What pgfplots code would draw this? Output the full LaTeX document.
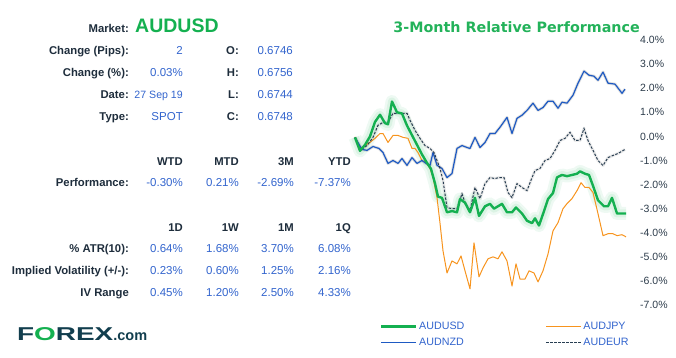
\documentclass[border=0pt]{standalone}
\usepackage{pgfplots}
\usepackage{pgfplotstable}
\pgfplotsset{compat=1.18}
\usepackage{fontspec}
\setmainfont{Liberation Sans}
\newfontfamily\titlefont{DejaVu Sans}
\definecolor{usdgreen}{RGB}{20,176,80}
\definecolor{titlegreen}{RGB}{35,178,90}
\definecolor{nzdblue}{RGB}{30,90,195}
\definecolor{jpyorange}{RGB}{247,148,30}
\definecolor{eurdark}{RGB}{40,62,82}
\definecolor{labeldark}{RGB}{30,45,60}
\definecolor{valblue}{RGB}{50,100,205}
\definecolor{logodark}{RGB}{18,62,78}
\definecolor{ticklab}{RGB}{45,60,75}

\pgfplotstableread{
x y
355 -0.04
360 -0.6
365 -0.35
370 0.0
375 0.6
380 0.9
385 0.55
388 0.5
392 1.45
397 1.0
402 0.95
407 0.45
412 0.05
417 -0.35
422 -0.75
427 -1.1
431 -1.35
435 -1.95
438 -2.5
442 -2.55
447 -3.15
452 -3.1
457 -3.15
460 -2.6
465 -2.75
470 -3.15
475 -2.55
479 -3.3
485 -2.9
490 -2.8
494 -3.0
498 -2.9
502 -2.8
507 -3.15
512 -3.15
516 -2.95
522 -3.2
527 -3.5
532 -3.6
535 -3.4
539 -3.7
544 -3.1
548 -2.6
553 -2.35
557 -1.7
562 -1.6
567 -1.65
572 -1.6
577 -1.55
580 -1.45
585 -1.55
589 -1.6
593 -2.05
598 -2.65
604 -2.9
608 -2.9
612 -2.55
617 -3.2
626 -3.2
}\usd

\pgfplotstableread{
x y
355 -0.02
360 -0.5
365 -0.38
370 -0.25
375 -0.08
380 0.12
383 0.12
388 -0.25
393 0.04
398 0.04
403 -0.04
408 -0.08
412 -0.5
415 -0.5
418 -0.67
422 -1.0
426 -1.08
430 -1.33
433 -1.71
437 -2.54
440 -3.6
443 -4.75
447 -5.67
452 -5.17
457 -5.29
461 -4.96
465 -5.58
470 -6.33
474 -4.42
479 -5.83
483 -5.46
488 -5.08
493 -5.0
498 -5.08
502 -4.79
507 -5.17
512 -6.21
516 -5.29
520 -5.92
525 -5.92
529 -5.58
534 -5.67
538 -6.04
543 -5.58
548 -4.88
553 -3.92
558 -3.58
563 -3.0
567 -2.79
572 -2.58
577 -2.25
581 -1.92
585 -2.12
589 -2.12
593 -2.33
598 -3.21
603 -4.12
608 -4.04
613 -4.04
617 -4.12
622 -4.08
626 -4.17
}\jpy

\pgfplotstableread{
x y
355 -0.04
362 -0.54
367 -0.58
373 -0.42
379 -0.5
383 -0.67
388 -1.12
393 -1.0
398 -1.12
402 -0.92
407 -1.2
412 -0.88
417 -1.12
422 -1.0
426 -1.12
430 -1.2
433 -0.67
437 -1.2
442 -1.33
447 -1.71
452 -1.54
457 -0.5
462 -0.38
467 -0.46
470 -0.5
475 -0.04
480 -0.46
485 -0.25
490 0.12
495 0.12
500 0.38
507 0.79
512 0.12
517 0.75
522 0.88
527 1.08
533 1.38
538 1.08
543 1.2
548 1.46
553 1.46
558 1.17
562 1.42
567 1.38
573 1.71
578 2.21
584 2.71
589 2.54
594 2.5
598 2.33
603 2.67
608 2.21
615 2.17
622 1.79
625 1.96
}\nzd

\pgfplotstableread{
x y
355 -0.04
360 -0.58
367 -0.38
373 -0.04
378 0.46
383 0.58
388 0.58
393 0.96
398 0.96
403 0.96
407 0.96
410 0.67
415 0.25
420 -0.08
425 -0.38
430 -0.5
434 -0.67
437 -1.0
440 -1.33
443 -1.83
447 -2.96
452 -3.0
457 -3.0
462 -2.38
465 -2.75
470 -3.08
475 -2.12
480 -2.58
485 -1.96
490 -1.71
495 -1.75
499 -1.71
504 -1.71
508 -2.33
512 -2.54
517 -1.96
522 -2.12
527 -2.25
532 -1.71
535 -1.42
540 -1.33
545 -1.0
550 -0.92
555 -0.58
560 -0.17
565 -0.08
570 0.17
575 -0.17
580 -0.17
584 0.33
588 -0.17
593 -0.58
598 -1.0
603 -1.21
608 -0.88
613 -0.79
618 -0.71
625 -0.54
}\eur

\newcommand\lab[3]{\node[anchor=base east,inner sep=0pt,font=\fontsize{11.3bp}{13bp}\selectfont\bfseries,text=labeldark] at (#1,#2) {#3};}
\newcommand\val[3]{\node[anchor=base east,inner sep=0pt,font=\fontsize{11.5bp}{13bp}\selectfont,text=valblue] at (#1,#2) {#3};}

\begin{document}
\begin{tikzpicture}
\begin{axis}[
  scale only axis,
  width=271bp, height=265bp,
  xmin=355, xmax=626, ymin=-7, ymax=4,
  hide x axis,
  axis y line=right, y axis line style={draw=none},
  major tick length=0pt,
  ytick={-7,-6,...,4},
  /pgf/number format/assume math mode=true,
  yticklabel={\pgfmathprintnumber[fixed,fixed zerofill,precision=1]{\tick}\%},
  yticklabel style={anchor=west, inner sep=0pt, xshift=14bp, font=\fontsize{10.5bp}{12bp}\selectfont, text=ticklab},
  clip=false,
  legend columns=2,
  legend cell align=left,
  legend image code/.code={\draw[#1] (0bp,0bp) -- (35bp,0bp);},
  legend style={draw=none, fill=none, at={(axis description cs:0.092,-0.057)}, anchor=north west,
    font=\fontsize{10.7bp}{12bp}\selectfont, text=valblue, inner sep=0pt, row sep=4bp,
    nodes={inner sep=1.5bp},
    /tikz/every even column/.append style={column sep=80bp}},
]
% glow for AUDUSD
\addplot[forget plot, usdgreen, opacity=0.07, line width=13bp, line join=round] table {\usd};
\addplot[forget plot, usdgreen, opacity=0.09, line width=8bp, line join=round] table {\usd};
% AUDJPY
\addplot[forget plot, jpyorange, line width=1bp, line join=round] table {\jpy};
% AUDNZD shadow + line
\addplot[forget plot, black, opacity=0.12, line width=3bp, line join=round] table {\nzd};
\addplot[forget plot, nzdblue, line width=1.2bp, line join=round] table {\nzd};
% AUDEUR shadow + line
\addplot[forget plot, black, opacity=0.08, line width=3bp, line join=round] table {\eur};
\addplot[forget plot, eurdark, line width=1bp, dash pattern=on 2.5bp off 1.5bp] table {\eur};
% AUDUSD
\addplot[forget plot, usdgreen, line width=2.4bp, line join=round] table {\usd};

\addlegendimage{usdgreen, line width=2.6bp}
\addlegendentry{AUDUSD}
\addlegendimage{jpyorange, line width=1bp}
\addlegendentry{AUDJPY}
\addlegendimage{nzdblue, line width=1.2bp}
\addlegendentry{AUDNZD}
\addlegendimage{eurdark, line width=1bp, dash pattern=on 2.5bp off 1.5bp}
\addlegendentry{AUDEUR}

% top-left corner of the whole picture (pixel 0,0): 0.0% lies at pixel y = 136.4, 24.09 px per 1%
\coordinate (TL) at (axis cs:0,5.662);
\end{axis}

\begin{scope}[shift={(TL)}, x=1bp, y=-1bp]
\path[use as bounding box] (0,0) rectangle (676,357);

% left info panel
\lab{129}{32}{Market:}
\node[anchor=base west,inner sep=0pt,font=\fontsize{19.5bp}{22bp}\selectfont\bfseries,text=usdgreen] at (135,32) {AUDUSD};
\lab{129}{54}{Change (Pips):}\val{183}{54}{2}\lab{239}{54}{O:}\val{293}{54}{0.6746}
\lab{129}{76}{Change (\%):}\val{183}{76}{0.03\%}\lab{239}{76}{H:}\val{293}{76}{0.6756}
\lab{129}{98}{Date:}\node[anchor=base east,inner sep=0pt,font=\fontsize{10.6bp}{13bp}\selectfont,text=valblue] at (183,98) {27 Sep 19};\lab{239}{98}{L:}\val{293}{98}{0.6744}
\lab{129}{120}{Type:}\val{183}{120}{SPOT}\lab{239}{120}{C:}\val{293}{120}{0.6748}

\lab{183}{165}{WTD}\lab{239}{165}{MTD}\lab{294}{165}{3M}\lab{351}{165}{YTD}
\lab{129}{186}{Performance:}\val{183}{186}{-0.30\%}\val{239}{186}{0.21\%}\val{294}{186}{-2.69\%}\val{351}{186}{-7.37\%}

\lab{183}{231}{1D}\lab{239}{231}{1W}\lab{294}{231}{1M}\lab{351}{231}{1Q}
\lab{129}{252}{\% ATR(10):}\val{183}{252}{0.64\%}\val{239}{252}{1.68\%}\val{294}{252}{3.70\%}\val{351}{252}{6.08\%}
\lab{129}{274}{Implied Volatility (+/-):}\val{183}{274}{0.23\%}\val{239}{274}{0.60\%}\val{294}{274}{1.25\%}\val{351}{274}{2.16\%}
\lab{129}{296}{IV Range}\val{183}{296}{0.45\%}\val{239}{296}{1.20\%}\val{294}{296}{2.50\%}\val{351}{296}{4.33\%}

% logo
\node[anchor=base west,inner sep=0pt] at (17,340) {\scalebox{1.5}[1]{\fontsize{18.6bp}{20bp}\selectfont\bfseries\color{logodark}F\textcolor{usdgreen}{O}REX}\fontsize{14.5bp}{16bp}\selectfont\bfseries\color{logodark}.com};

% title
\node[anchor=base east,inner sep=0pt,font=\titlefont\bfseries\fontsize{14.3bp}{16bp}\selectfont,text=titlegreen] at (640,32.5) {3-Month Relative Performance};
\end{scope}
\end{tikzpicture}
\end{document}
